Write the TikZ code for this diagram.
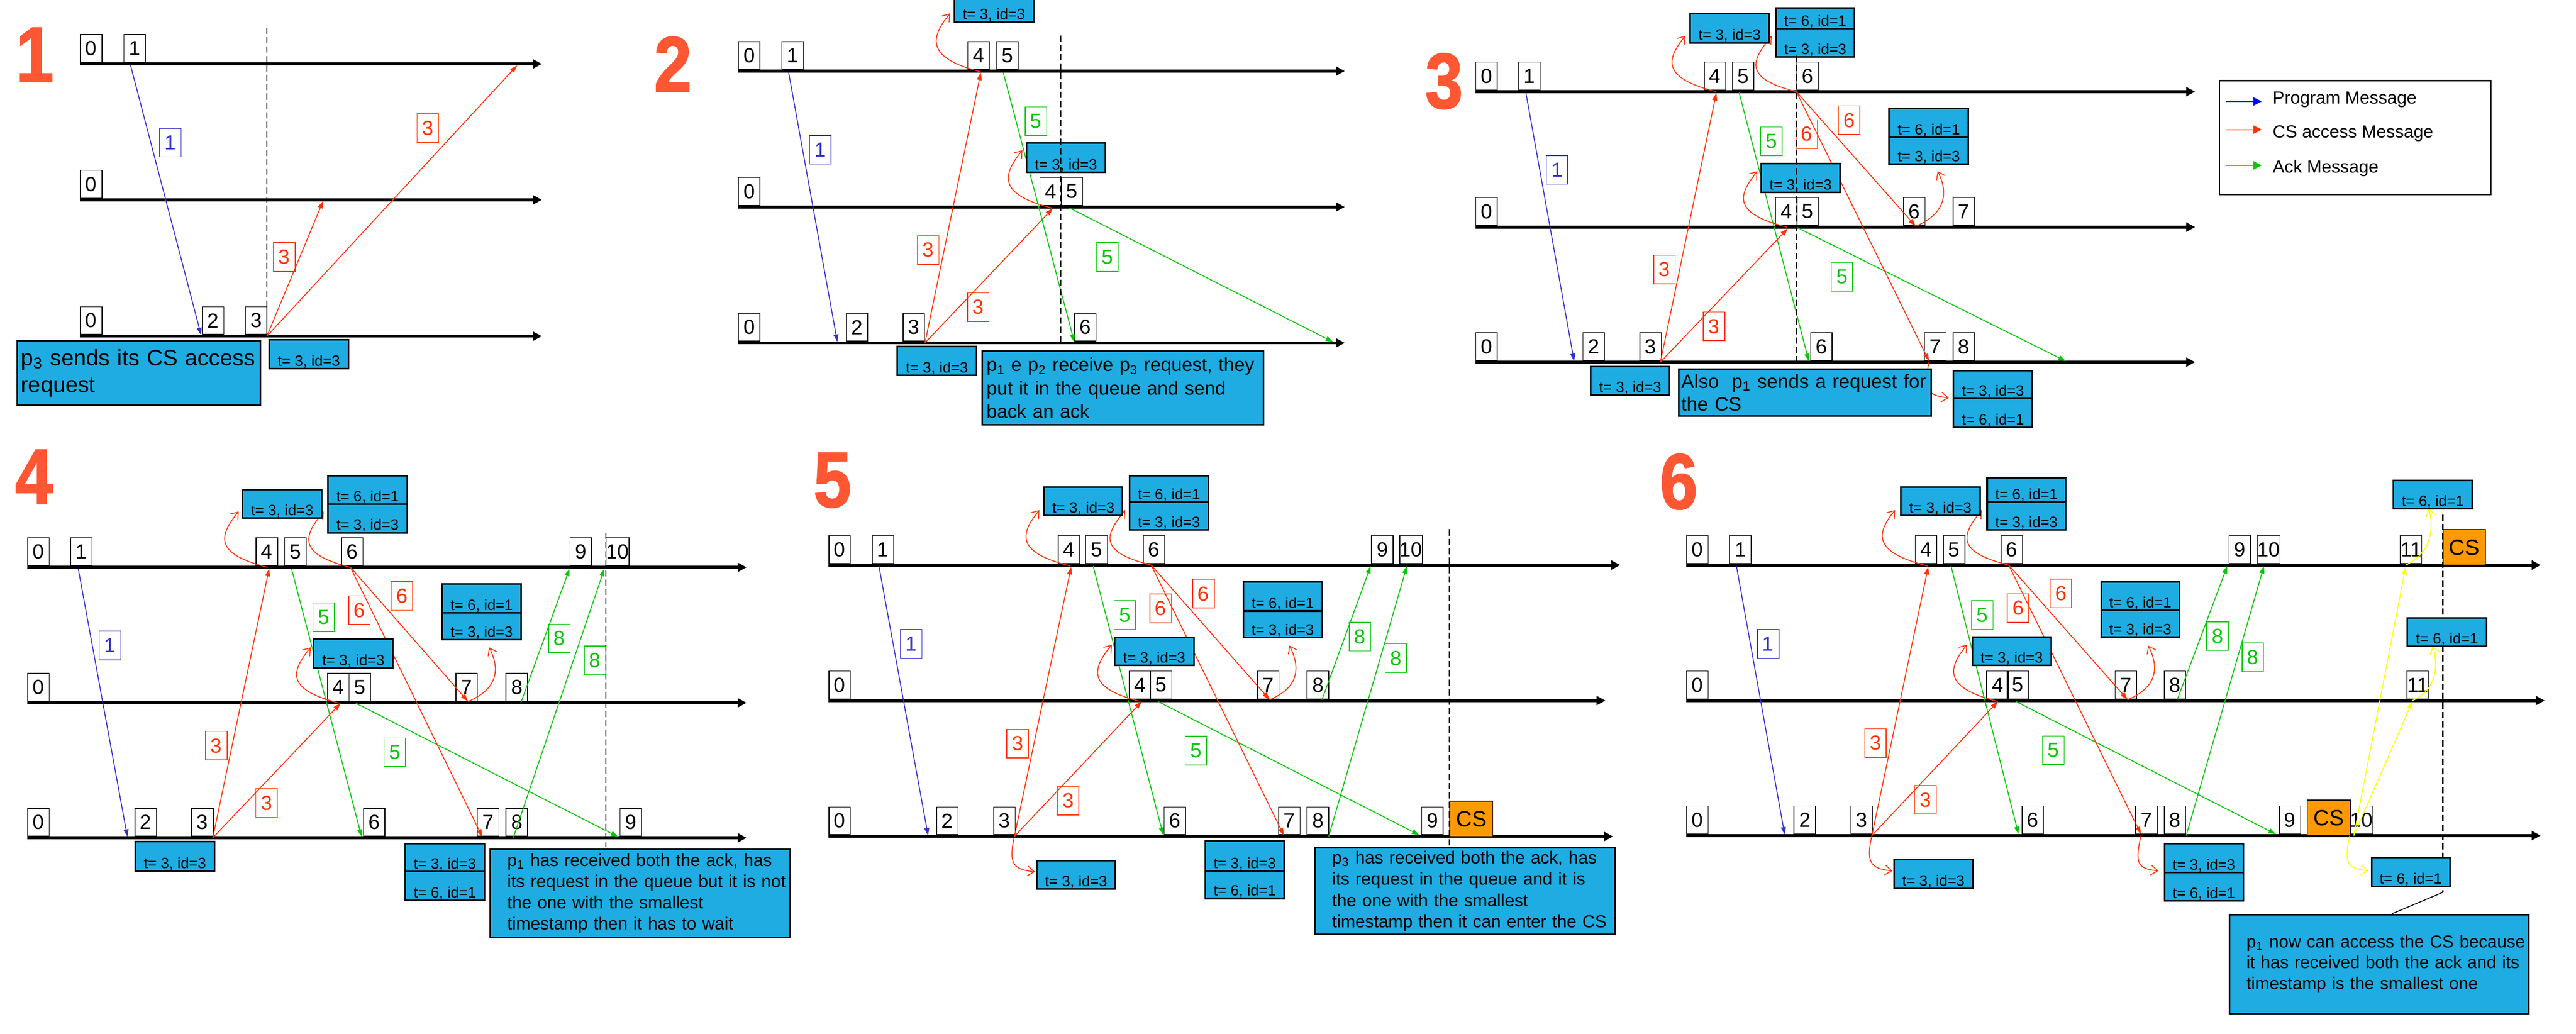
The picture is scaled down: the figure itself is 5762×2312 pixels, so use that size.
\documentclass[tikz,border=0pt]{standalone}
\usepackage{fontspec}
\setmainfont{Liberation Sans}
\newfontfamily\bigdigit[FakeStretch=0.86,FakeBold=1.5]{Liberation Sans}
\usetikzlibrary{arrows.meta}
\definecolor{progc}{RGB}{51,51,204}
\definecolor{csc}{RGB}{255,51,0}
\definecolor{ackc}{RGB}{0,200,0}
\definecolor{yelc}{RGB}{255,255,0}
\definecolor{boxc}{RGB}{30,172,226}
\definecolor{csbox}{RGB}{255,153,0}
\definecolor{bigc}{RGB}{255,87,51}
\tikzset{
 tl/.style={line width=0.065cm, -{Triangle[length=0.2cm,width=0.2cm]}},
 nb/.style={draw, line width=0.018cm, minimum width=0.48cm, minimum height=0.62cm, inner sep=0pt, anchor=south west, font=\fontsize{13}{15}\selectfont},
 lb/.style={draw=#1, text=#1, line width=0.018cm, minimum width=0.48cm, minimum height=0.64cm, inner sep=0pt, font=\fontsize{13}{15}\selectfont},
 msg/.style={line width=0.02cm, draw=#1, -{Triangle[length=0.17cm,width=0.11cm]}},
 qarr/.style={line width=0.02cm, draw=#1, -{Straight Barb[length=0.15cm,width=0.22cm]}},
 qb/.style={draw, fill=boxc, line width=0.035cm, inner xsep=0pt, inner ysep=0pt, text depth=0.06cm, font=\fontsize{9.5}{11}\selectfont, anchor=north west},
 tbx/.style={draw, fill=boxc, line width=0.035cm, anchor=north west, inner sep=0pt},
 ttx/.style={anchor=west, align=left, inner sep=0pt},
 csn/.style={draw, fill=csbox, line width=0.02cm, inner sep=0pt, anchor=north west, font=\fontsize{14}{16}\selectfont},
 dsh/.style={line width=0.025cm, dash pattern=on 0.14cm off 0.07cm},
 big/.style={text=bigc, font=\bigdigit\bfseries\fontsize{50}{50}\selectfont, anchor=base, inner sep=0pt},
 lga/.style={line width=0.02cm, draw=#1, -{Triangle[length=0.19cm,width=0.19cm]}},
}
\newcommand\tline[4]{\coordinate (#1s) at (#3,#2); \coordinate (#1e) at (#4,#2); \draw[tl] (#1s) -- (#1e);}
\newcommand\msgarr[6]{\coordinate (#1s) at (#3); \coordinate (#1e) at (#4); \draw[msg=#2] (#1s) -- (#1e); \node[lb=#2] (#1l) at (#5) {#6};}
\newcommand\msgnl[4]{\coordinate (#1s) at (#3); \coordinate (#1e) at (#4); \draw[msg=#2] (#1s) -- (#1e);}
\newcommand\qcurve[6]{\coordinate (#1s) at (#3); \coordinate (#1e) at (#4); \draw[qarr=#2] (#1s) .. controls +(#5) and +(#6) .. (#1e);}
\newcommand\qbox[6]{\pgfmathsetmacro\qbw{(#4-#2)/100}\pgfmathsetmacro\qbh{(#5-#3)/100-0.06}\node[qb, minimum width=\qbw cm, text height=\qbh cm] (#1) at (#2,#3) {#6};}
\newcommand\dline[4]{\coordinate (#1t) at (#2,#3); \coordinate (#1b) at (#2,#4); \draw[dsh] (#1t) -- (#1b);}
\begin{document}
\begin{tikzpicture}[x=0.01cm,y=-0.01cm]
\useasboundingbox (0,0) rectangle (5762,2312);
% ================= PANEL 1 =================
\node[big] (big1) at (78,183) {1};
\tline{p1l1}{143}{179}{1212}
\tline{p1l2}{447}{179}{1212}
\tline{p1l3}{752}{179}{1212}
\foreach \bx/\bt [count=\bi] in {179/0,276/1} \node[nb] (p1a\bi) at (\bx,140) {\bt};
\node[nb] (p1b1) at (179,444) {0};
\foreach \bx/\bt [count=\bi] in {179/0,452/2,548/3} \node[nb] (p1c\bi) at (\bx,749) {\bt};
\msgarr{p1m1}{progc}{292,146}{450,750}{381,319}{1}
\msgarr{p1m2}{csc}{597,752}{723,449}{636,575}{3}
\msgarr{p1m3}{csc}{597,752}{1157,146}{957,287}{3}
\qbox{p1q1}{600}{758}{778}{823}{t= 3, id=3}
\dline{p1d}{597}{62}{755}
\node[tbx, minimum width=5.44cm, minimum height=1.43cm] (p1box) at (37,761) {};
\node[ttx, text width=5.3cm, font=\fontsize{14.2}{17}\selectfont] (p1txt) at ([xshift=0.09cm]p1box.west) {p\textsubscript{3} sends its CS access\\request};
% ================= PANEL 2 =================
\node[big] (big2) at (1505,205) {2};
\tline{p2l1}{159}{1651}{3008}
\tline{p2l2}{463}{1651}{3008}
\tline{p2l3}{767}{1651}{3008}
\foreach \bx/\bt [count=\bi] in {1651/0,1748/1,2164/4,2229/5} \node[nb] (p2a\bi) at (\bx,156) {\bt};
\foreach \bx/\bt [count=\bi] in {1651/0,2325/4,2373/5} \node[nb] (p2b\bi) at (\bx,460) {\bt};
\foreach \bx/\bt [count=\bi] in {1651/0,1892/2,2019/3,2403/6} \node[nb] (p2c\bi) at (\bx,764) {\bt};
\msgarr{p2m1}{progc}{1764,162}{1873,765}{1835,335}{1}
\msgarr{p2m2}{csc}{2069,767}{2194,162}{2076,559}{3}
\msgarr{p2m3}{csc}{2069,767}{2355,466}{2188,687}{3}
\msgarr{p2m4}{ackc}{2244,162}{2403,765}{2317,271}{5}
\msgarr{p2m5}{ackc}{2392,465}{2982,765}{2477,575}{5}
\qcurve{p2c1}{csc}{2192,160}{2125,30}{-120,-30}{-45,55}
\qcurve{p2c2}{csc}{2352,465}{2287,336}{-120,-30}{-45,55}
\qbox{p2q1}{2133}{-17}{2310}{47}{t= 3, id=3}
\qbox{p2q2}{2294}{318}{2471}{384}{t= 3, id=3}
\qbox{p2q3}{2005}{773}{2183}{838}{t= 3, id=3}
\dline{p2d}{2373}{79}{770}
\node[tbx, minimum width=6.29cm, minimum height=1.64cm] (p2box) at (2195,784) {};
\node[ttx, text width=6.4cm, font=\fontsize{12}{14.8}\selectfont] (p2txt) at ([xshift=0.11cm]p2box.west) {p\textsubscript{1} e p\textsubscript{2} receive p\textsubscript{3} request, they\\put it in the queue and send\\back an ack};
% ================= PANEL 3 =================
\node[big] (big3) at (3230,242) {3};
\tline{p3l1}{205}{3300}{4910}
\tline{p3l2}{508}{3300}{4910}
\tline{p3l3}{810}{3300}{4910}
\foreach \bx/\bt [count=\bi] in {3300/0,3396/1,3811/4,3874/5,4018/6} \node[nb] (p3a\bi) at (\bx,202) {\bt};
\foreach \bx/\bt [count=\bi] in {3300/0,3971/4,4018/5,4257/6,4368/7} \node[nb] (p3b\bi) at (\bx,505) {\bt};
\foreach \bx/\bt [count=\bi] in {3300/0,3540/2,3667/3,4049/6,4304/7,4368/8} \node[nb] (p3c\bi) at (\bx,807) {\bt};
\msgarr{p3m1}{progc}{3413,207}{3521,808}{3483,380}{1}
\msgarr{p3m2}{csc}{3714,810}{3839,208}{3723,603}{3}
\msgarr{p3m3}{csc}{3714,810}{3999,511}{3834,730}{3}
\msgarr{p3m4}{ackc}{3890,207}{4046,808}{3962,316}{5}
\msgarr{p3m5}{ackc}{4018,508}{4621,808}{4120,619}{5}
\msgarr{p3m6}{csc}{4018,205}{4285,506}{4136,269}{6}
\msgarr{p3m7}{csc}{4018,205}{4315,808}{4041,300}{6}
\qcurve{p3c1}{csc}{3839,205}{3770,80}{-120,-30}{-45,55}
\qcurve{p3c2}{csc}{4018,205}{3963,80}{-120,-30}{-45,55}
\qcurve{p3c3}{csc}{3997,508}{3931,383}{-120,-30}{-45,55}
\qcurve{p3c4}{csc}{4285,506}{4334,383}{60,-25}{28,55}
\qcurve{p3c5}{csc}{4315,810}{4359,890}{-15,65}{-45,-5}
\qbox{p3q1}{3779}{29}{3955}{94}{t= 3, id=3}
\qbox{p3q2}{3971}{16}{4146}{62}{t= 6, id=1}
\qbox{p3q3}{3971}{62}{4146}{126}{t= 3, id=3}
\qbox{p3q4}{3938}{364}{4114}{429}{t= 3, id=3}
\qbox{p3q5}{4224}{241}{4401}{305}{t= 6, id=1}
\qbox{p3q6}{4224}{305}{4401}{365}{t= 3, id=3}
\qbox{p3q7}{3556}{818}{3733}{882}{t= 3, id=3}
\qbox{p3q8}{4368}{827}{4544}{890}{t= 3, id=3}
\qbox{p3q9}{4368}{890}{4544}{954}{t= 6, id=1}
\dline{p3d}{4018}{124}{807}
\node[tbx, minimum width=5.65cm, minimum height=1.05cm] (p3box) at (3753,824) {};
\node[ttx, text width=5.55cm, font=\fontsize{12.3}{14.5}\selectfont] (p3txt) at ([xshift=0.07cm]p3box.west) {Also\ \ p\textsubscript{1} sends a request for\\the CS};
% ================= PANEL 4 =================
\node[big] (big4) at (76,1127) {4};
\tline{p4l1}{1269}{61}{1670}
\tline{p4l2}{1572}{61}{1670}
\tline{p4l3}{1874}{61}{1670}
\foreach \bx/\bt [count=\bi] in {61/0,157/1,572/4,636/5,763/6,1274/9,1355/10} \node[nb] (p4a\bi) at (\bx,1266) {\bt};
\foreach \bx/\bt [count=\bi] in {61/0,732/4,780/5,1019/7,1131/8} \node[nb] (p4b\bi) at (\bx,1569) {\bt};
\foreach \bx/\bt [count=\bi] in {61/0,301/2,428/3,812/6,1067/7,1131/8,1386/9} \node[nb] (p4c\bi) at (\bx,1871) {\bt};
\msgarr{p4m1}{progc}{175,1272}{285,1872}{246,1444}{1}
\msgarr{p4m2}{csc}{476,1874}{602,1272}{484,1668}{3}
\msgarr{p4m3}{csc}{476,1874}{762,1573}{596,1796}{3}
\msgarr{p4m4}{ackc}{652,1272}{809,1872}{724,1381}{5}
\msgarr{p4m5}{ackc}{796,1573}{1383,1872}{883,1683}{5}
\msgarr{p4m6}{csc}{784,1269}{1047,1569}{899,1333}{6}
\msgarr{p4m7}{csc}{784,1269}{1079,1872}{804,1365}{6}
\msgarr{p4m8}{ackc}{1165,1572}{1274,1272}{1251,1428}{8}
\msgarr{p4m9}{ackc}{1148,1874}{1352,1272}{1331,1477}{8}
\qcurve{p4c1}{csc}{599,1269}{534,1144}{-120,-30}{-45,55}
\qcurve{p4c2}{csc}{784,1269}{724,1144}{-120,-30}{-45,55}
\qcurve{p4c3}{csc}{760,1573}{695,1448}{-120,-30}{-45,55}
\qcurve{p4c4}{csc}{1047,1569}{1094,1448}{60,-25}{28,55}
\qbox{p4q1}{541}{1094}{718}{1157}{t= 3, id=3}
\qbox{p4q2}{732}{1063}{909}{1126}{t= 6, id=1}
\qbox{p4q3}{732}{1126}{909}{1190}{t= 3, id=3}
\qbox{p4q4}{700}{1428}{877}{1492}{t= 3, id=3}
\qbox{p4q5}{987}{1305}{1164}{1369}{t= 6, id=1}
\qbox{p4q6}{987}{1369}{1164}{1429}{t= 3, id=3}
\qbox{p4q7}{301}{1881}{478}{1946}{t= 3, id=3}
\qbox{p4q8}{905}{1885}{1082}{1948}{t= 3, id=3}
\qbox{p4q9}{905}{1948}{1082}{2012}{t= 6, id=1}
\dline{p4d}{1355}{1191}{1895}
\node[tbx, minimum width=6.7cm, minimum height=1.97cm] (p4box) at (1095,1898) {};
\node[ttx, text width=6.25cm, font=\fontsize{11.1}{13.5}\selectfont] (p4txt) at ([xshift=0.39cm]p4box.west) {p\textsubscript{1} has received both the ack, has\\its request in the queue but it is not\\the one with the smallest\\timestamp then it has to wait};
% ================= PANEL 5 =================
\node[big] (big5) at (1862,1134) {5};
\tline{p5l1}{1264}{1853}{3624}
\tline{p5l2}{1567}{1853}{3591}
\tline{p5l3}{1871}{1853}{3608}
\foreach \bx/\bt [count=\bi] in {1853/0,1950/1,2366/4,2428/5,2556/6,3067/9,3130/10} \node[nb] (p5a\bi) at (\bx,1261) {\bt};
\foreach \bx/\bt [count=\bi] in {1853/0,2525/4,2572/5,2812/7,2923/8} \node[nb] (p5b\bi) at (\bx,1564) {\bt};
\foreach \bx/\bt [count=\bi] in {1853/0,2094/2,2222/3,2603/6,2859/7,2923/8,3179/9} \node[nb] (p5c\bi) at (\bx,1868) {\bt};
\node[csn, minimum width=0.96cm, minimum height=0.79cm] (p5cs) at (3242,1791) {CS};
\msgarr{p5m1}{progc}{1966,1266}{2076,1869}{2038,1440}{1}
\msgarr{p5m2}{csc}{2269,1871}{2396,1268}{2276,1663}{3}
\msgarr{p5m3}{csc}{2269,1871}{2554,1569}{2389,1791}{3}
\msgarr{p5m4}{ackc}{2445,1266}{2602,1868}{2516,1376}{5}
\msgarr{p5m5}{ackc}{2590,1569}{3175,1868}{2675,1679}{5}
\msgarr{p5m6}{csc}{2575,1264}{2840,1565}{2692,1328}{6}
\msgarr{p5m7}{csc}{2575,1264}{2872,1869}{2596,1361}{6}
\msgarr{p5m8}{ackc}{2957,1565}{3066,1266}{3042,1424}{8}
\msgarr{p5m9}{ackc}{2972,1871}{3147,1266}{3122,1472}{8}
\qcurve{p5c1}{csc}{2394,1266}{2325,1141}{-120,-30}{-45,55}
\qcurve{p5c2}{csc}{2575,1264}{2517,1141}{-120,-30}{-45,55}
\qcurve{p5c3}{csc}{2551,1569}{2487,1442}{-120,-30}{-45,55}
\qcurve{p5c4}{csc}{2840,1565}{2884,1444}{60,-25}{28,55}
\qcurve{p5c5}{csc}{2269,1871}{2315,1950}{-15,65}{-45,-5}
\qbox{p5q1}{2334}{1088}{2509}{1151}{t= 3, id=3}
\qbox{p5q2}{2525}{1062}{2701}{1121}{t= 6, id=1}
\qbox{p5q3}{2525}{1121}{2701}{1184}{t= 3, id=3}
\qbox{p5q4}{2491}{1424}{2669}{1487}{t= 3, id=3}
\qbox{p5q5}{2779}{1300}{2956}{1365}{t= 6, id=1}
\qbox{p5q6}{2779}{1365}{2956}{1424}{t= 3, id=3}
\qbox{p5q7}{2317}{1923}{2493}{1987}{t= 3, id=3}
\qbox{p5q8}{2694}{1880}{2871}{1946}{t= 3, id=3}
\qbox{p5q9}{2694}{1946}{2871}{2008}{t= 6, id=1}
\dline{p5d}{3242}{1184}{1891}
\node[tbx, minimum width=6.7cm, minimum height=1.93cm] (p5box) at (2940,1895) {};
\node[ttx, text width=6.25cm, font=\fontsize{11.1}{13.5}\selectfont] (p5txt) at ([xshift=0.39cm]p5box.west) {p\textsubscript{3} has received both the ack, has\\its request in the queue and it is\\the one with the smallest\\timestamp then it can enter the CS};
% ================= PANEL 6 =================
\node[big] (big6) at (3755,1138) {6};
\tline{p6l1}{1264}{3772}{5683}
\tline{p6l2}{1567}{3772}{5692}
\tline{p6l3}{1869}{3772}{5683}
\foreach \bx/\bt [count=\bi] in {3772/0,3868/1,4283/4,4346/5,4475/6,4985/9,5048/10,5368/11} \node[nb] (p6a\bi) at (\bx,1261) {\bt};
\foreach \bx/\bt [count=\bi] in {3772/0,4443/4,4489/5,4730/7,4840/8,5383/11} \node[nb] (p6b\bi) at (\bx,1564) {\bt};
\foreach \bx/\bt [count=\bi] in {3772/0,4012/2,4139/3,4522/6,4776/7,4840/8,5097/9,5256/10} \node[nb] (p6c\bi) at (\bx,1866) {\bt};
\node[csn, minimum width=0.94cm, minimum height=0.79cm] (p6cs1) at (5464,1184) {CS};
\node[csn, minimum width=0.96cm, minimum height=0.79cm] (p6cs2) at (5160,1789) {CS};
\msgarr{p6m1}{progc}{3884,1266}{3992,1867}{3955,1440}{1}
\msgarr{p6m2}{csc}{4187,1869}{4313,1268}{4195,1662}{3}
\msgarr{p6m3}{csc}{4187,1869}{4469,1569}{4307,1789}{3}
\msgarr{p6m4}{ackc}{4364,1266}{4515,1866}{4434,1376}{5}
\msgarr{p6m5}{ackc}{4509,1569}{5091,1866}{4593,1678}{5}
\msgarr{p6m6}{csc}{4493,1264}{4759,1565}{4610,1327}{6}
\msgarr{p6m7}{csc}{4493,1264}{4789,1866}{4514,1360}{6}
\msgarr{p6m8}{ackc}{4870,1565}{4982,1266}{4960,1423}{8}
\msgarr{p6m9}{ackc}{4890,1869}{5064,1266}{5039,1470}{8}
\msgnl{p6y1}{yelc}{5265,1869}{5381,1268}
\msgnl{p6y2}{yelc}{5265,1869}{5396,1569}
\qcurve{p6c1}{csc}{4312,1266}{4239,1141}{-120,-30}{-45,55}
\qcurve{p6c2}{csc}{4493,1264}{4433,1141}{-120,-30}{-45,55}
\qcurve{p6c3}{csc}{4469,1569}{4400,1442}{-120,-30}{-45,55}
\qcurve{p6c4}{csc}{4759,1565}{4805,1444}{60,-25}{28,55}
\qcurve{p6c5}{csc}{4187,1869}{4233,1948}{-15,65}{-45,-5}
\qcurve{p6c6}{csc}{4789,1869}{4828,1948}{-15,65}{-45,-5}
\qcurve{p6c7}{yelc}{5381,1264}{5433,1138}{45,-20}{15,60}
\qcurve{p6c8}{yelc}{5396,1567}{5442,1445}{45,-20}{15,60}
\qcurve{p6c9}{yelc}{5256,1869}{5298,1948}{-15,65}{-45,-5}
\dline{p6d}{5464}{1151}{1996}
\coordinate (p6lead) at (5350,2044);
\draw[line width=0.02cm] (p6db) -- (p6lead);
\qbox{p6q1}{4250}{1088}{4427}{1151}{t= 3, id=3}
\qbox{p6q2}{4443}{1067}{4619}{1121}{t= 6, id=1}
\qbox{p6q3}{4443}{1121}{4619}{1184}{t= 3, id=3}
\qbox{p6q4}{4410}{1423}{4586}{1487}{t= 3, id=3}
\qbox{p6q5}{4698}{1300}{4873}{1363}{t= 6, id=1}
\qbox{p6q6}{4698}{1363}{4873}{1423}{t= 3, id=3}
\qbox{p6q7}{5352}{1073}{5528}{1136}{t= 6, id=1}
\qbox{p6q8}{5383}{1381}{5560}{1444}{t= 6, id=1}
\qbox{p6q9}{4235}{1921}{4411}{1986}{t= 3, id=3}
\qbox{p6q10}{4840}{1885}{5016}{1950}{t= 3, id=3}
\qbox{p6q11}{4840}{1950}{5016}{2013}{t= 6, id=1}
\qbox{p6q12}{5303}{1916}{5478}{1981}{t= 6, id=1}
\node[tbx, minimum width=6.69cm, minimum height=2.21cm] (p6box) at (4985,2044) {};
\node[ttx, text width=6.25cm, font=\fontsize{11}{13.3}\selectfont] (p6txt) at ([xshift=0.39cm]p6box.west) {p\textsubscript{1} now can access the CS because\\it has received both the ack and its\\timestamp is the smallest one};
% ================= LEGEND =================
\node[draw, line width=0.03cm, anchor=north west, inner sep=0pt, minimum width=6.07cm, minimum height=2.55cm] (leg) at (4963,179) {};
\coordinate (lg1s) at (4979,227); \coordinate (lg1e) at (5059,227);
\coordinate (lg2s) at (4979,290); \coordinate (lg2e) at (5059,290);
\coordinate (lg3s) at (4979,370); \coordinate (lg3e) at (5059,370);
\draw[lga=blue] (lg1s) -- (lg1e);
\draw[lga=csc] (lg2s) -- (lg2e);
\draw[lga=ackc] (lg3s) -- (lg3e);
\node[anchor=base west, inner sep=0pt, font=\fontsize{11.2}{13}\selectfont] (lgt1) at (5083,232) {Program Message};
\node[anchor=base west, inner sep=0pt, font=\fontsize{11.2}{13}\selectfont] (lgt2) at (5083,308) {CS access Message};
\node[anchor=base west, inner sep=0pt, font=\fontsize{11.2}{13}\selectfont] (lgt3) at (5083,387) {Ack Message};
\end{tikzpicture}
\end{document}
